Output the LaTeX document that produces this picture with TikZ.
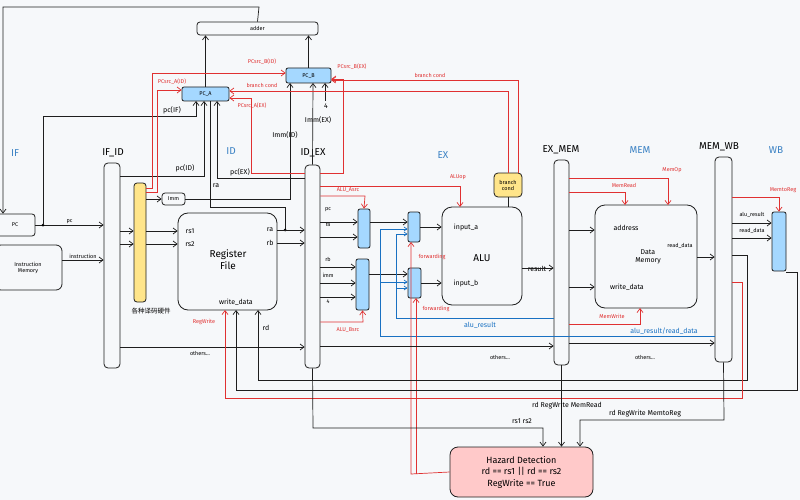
\documentclass[tikz,border=0pt]{standalone}
\usepackage{fontspec}
\setmainfont{Fira Sans}
\newfontfamily\cjk{Noto Sans CJK SC}
\usetikzlibrary{arrows.meta}
\definecolor{bg}{HTML}{F6F8FA}
\definecolor{lb}{HTML}{A5D8FF}
\definecolor{ly}{HTML}{FFE58A}
\definecolor{lr}{HTML}{FFC9C9}
\definecolor{rd}{HTML}{E03131}
\definecolor{bl}{HTML}{1971C2}
\definecolor{st}{HTML}{3B82C4}
\definecolor{ln}{HTML}{1E1E1E}
\begin{document}
\begin{tikzpicture}[x=1pt,y=-1pt,
  box/.style={draw=ln,line width=0.8pt,rounded corners=3pt,fill=bg,inner sep=0pt},
  big/.style={box,rounded corners=10pt},
  reg/.style={box,rounded corners=4pt},
  mux/.style={box,fill=lb,rounded corners=2pt},
  w/.style={draw=ln,line width=0.7pt},
  a/.style={w,-{Straight Barb[length=4pt,width=6pt]}},
  r/.style={draw=rd,line width=0.7pt},
  ra/.style={r,-{Straight Barb[length=4pt,width=6pt]}},
  b/.style={draw=bl,line width=0.7pt},
  ba/.style={b,-{Straight Barb[length=3pt,width=4pt]}},
  t/.style={font=\fontsize{7}{8}\selectfont,inner sep=1pt},
  tt/.style={font=\fontsize{5.5}{6}\selectfont,inner sep=1pt},
  rt/.style={tt,text=rd},
  bt/.style={t,text=bl},
  stage/.style={font=\fontsize{10}{12}\selectfont,text=st},
  regname/.style={font=\fontsize{10}{12}\selectfont}]
\fill[bg] (0,0) rectangle (800,500);
\useasboundingbox (0,0) rectangle (800,500);

% nodes
\node[box,minimum width=121,minimum height=13] (adder) at (257.5,28.5) {};
\node[tt] at (adder) {adder};
\node[mux,minimum width=47,minimum height=14] (pca) at (205.5,94) {};
\node[tt] at (pca) {PC\_A};
\node[mux,minimum width=45,minimum height=15] (pcb) at (308.5,75.5) {};
\node[tt] at (pcb) {PC\_B};
\node[box,minimum width=40,minimum height=22] (pc) at (15,225) {};
\node[tt] at (15,225) {PC};
\node[box,minimum width=67,minimum height=45,rounded corners=6pt] (im) at (28.5,267.5) {};
\node[tt,align=center] at (28,267.5) {Instruction\\Memory};
\node[reg,minimum width=16,minimum height=205] (ifid) at (112,265.5) {};
\node[box,fill=ly,minimum width=12,minimum height=119] (dec) at (140,242.5) {};
\node[box,minimum width=23,minimum height=12] (imm) at (173.5,199) {};
\node[tt] at (imm) {Imm};
\node[big,minimum width=99,minimum height=97] (rf) at (227.5,261.5) {};
\node[reg,minimum width=15,minimum height=203] (idex) at (312.5,266.5) {};
\node[mux,minimum width=12,minimum height=39] (asrc) at (364,228.5) {};
\node[mux,minimum width=13,minimum height=51] (bsrc) at (362.5,284.5) {};
\node[mux,minimum width=12,minimum height=30] (fw1) at (414,227) {};
\node[mux,minimum width=13,minimum height=30] (fw2) at (414.5,283) {};
\node[big,minimum width=80,minimum height=98] (alu) at (482,256) {};
\node[box,fill=ly,minimum width=28,minimum height=24,rounded corners=4pt] (bc) at (508,185) {};
\node[tt,align=center] at (bc) {branch\\cond};
\node[reg,minimum width=15,minimum height=205] (exmem) at (561.5,262.5) {};
\node[big,minimum width=102,minimum height=103] (dm) at (646,256.5) {};
\node[reg,minimum width=17,minimum height=205] (memwb) at (723.5,259.5) {};
\node[mux,minimum width=14,minimum height=59] (wbm) at (779,241.5) {};
\node[box,fill=lr,rounded corners=8pt,minimum width=143,minimum height=50] (hz) at (521.5,472) {};
\node[align=center,font=\fontsize{9}{11.5}\selectfont] at (hz) {Hazard Detection\\rd == rs1 || rd == rs2\\RegWrite == True};

% texts
\node[regname] at (113,153) {IF\_ID};
\node[regname] at (313,153) {ID\_EX};
\node[regname] at (561,150) {EX\_MEM};
\node[regname] at (719,147) {MEM\_WB};
\node[stage] at (15,153) {IF};
\node[stage] at (231,151) {ID};
\node[stage] at (443,155) {EX};
\node[stage] at (640,150) {MEM};
\node[stage] at (776,150) {WB};
\node[font=\fontsize{10}{12}\selectfont,align=center] at (228,260) {Register\\File};
\node[t] at (190,231) {rs1};
\node[t] at (190,244) {rs2};
\node[t] at (270,230) {ra};
\node[t] at (270,243) {rb};
\node[t] at (236,302) {write\_data};
\node[font=\cjk\fontsize{6.5}{8}\selectfont] at (151,311) {各种译码硬件};
\node[font=\fontsize{10}{12}\selectfont] at (482,258) {ALU};
\node[t] at (466,228) {input\_a};
\node[t] at (466,284) {input\_b};
\node[t] at (537,269) {result};
\node[t] at (626,228) {address};
\node[t,align=center] at (648,257) {Data\\Memory};
\node[tt] at (680,246) {read\_data};
\node[t] at (627,287) {write\_data};

% top: adder to PC
\draw[a] (pca.north) -- (adder.south -| pca.north);
\draw[a] (pcb.north) -- (adder.south -| pcb.north);
\draw[a] (adder.north) -- (259,7) -- (3,7) -- (pc.north -| 3,0);
% pc
\draw[a] (pc.east) -- (ifid.west |- pc.east) node[midway,above,tt] {pc};
\fill (43,225) circle (1.5);
\draw[a] (43,225) -- (43,116) -- (196,116) -- (196,101) ;
\node[t] at (172,110) {pc(IF)};
\draw[a] (im.east |- 0,260) -- (ifid.west |- 0,260) node[midway,above,tt] {instruction};
\draw[a] (ifid.east |- 0,176) -- (204,176) -- (204,101);
\node[t] at (185,168) {pc(ID)};
\draw[a] (idex.west |- 0,178) -- (217,178) -- (217,101);
\node[t] at (240,172) {pc(EX)};
\draw[w] (210,101) -- (210,207) -- (285,207) -- (285,230);
\node[t] at (216,186) {ra};
\fill (285,230) circle (1.5);
\draw[a] (imm.east) -- (290,199) -- (290,83);
\node[t] at (285,135) {Imm(ID)};
\draw[a] (idex.north) -- (313,83);
\node[t] at (318,120) {Imm(EX)};
\draw[a] (325,101) -- (325,83);
\node[t] at (326,106) {4};
% red PC src
\draw[ra] (146,188) -- (152,188) -- (152,73) -- (pcb.west |- 0,73);
\node[rt] at (262,62) {PCsrc\_B(ID)};
\draw[ra] (146,192) -- (157,192) -- (157,90) -- (pca.west |- 0,90);
\node[rt] at (172,82) {PCsrc\_A(ID)};
\draw[ra] (idex.east |- 0,173) -- (343,173) -- (343,79) -- (pcb.east |- 0,79);
\node[rt] at (352,67) {PCsrc\_B(EX)};
\draw[ra] (idex.west |- 0,173) -- (251,173) -- (251,98) -- (pca.east |- 0,98);
\node[rt] at (252,106) {PCsrc\_A(EX)};
\draw[ra] (518,173) -- (518,80) -- (331,80);
\node[rt] at (430,75) {branch cond};
\draw[ra] (508,173) -- (508,91) -- (pca.east |- 0,91);
\node[rt] at (262,85) {branch cond};
% decode
\draw[a] (ifid.east |- 0,231) -- (dec.west |- 0,231);
\draw[a] (ifid.east |- 0,244) -- (dec.west |- 0,244);
\draw[a] (dec.east |- imm.west) -- (imm.west);
\draw[a] (dec.east |- 0,231) -- (rf.west |- 0,231);
\draw[a] (dec.east |- 0,244) -- (rf.west |- 0,244);
\draw[a] (rf.east |- 0,230) -- (idex.west |- 0,230);
\draw[a] (rf.east |- 0,243) -- (idex.west |- 0,243);
% EX
\draw[a] (idex.east |- 0,222) -- (asrc.west |- 0,222);
\draw[a] (idex.east |- 0,237) -- (asrc.west |- 0,237);
\node[tt] at (328,210) {pc}; \node[tt] at (328,225) {ra};
\draw[a] (idex.east |- 0,267) -- (bsrc.west |- 0,267);
\draw[a] (idex.east |- 0,283) -- (bsrc.west |- 0,283);
\draw[a] (idex.east |- 0,297) -- (bsrc.west |- 0,297);
\node[tt] at (328,259) {rb}; \node[tt] at (328,275) {imm}; \node[tt] at (328,302) {4};
\draw[ra] (idex.east |- 0,196) -- (365,196) -- (asrc.north);
\node[rt] at (348,190) {ALU\_Asrc};
\draw[ra] (idex.east |- 0,186) -- (460,186) -- (460,207);
\node[rt] at (458,177) {ALUop};
\draw[ra] (idex.east |- 0,322) -- (363,322) -- (bsrc.south);
\node[rt] at (348,330) {ALU\_Bsrc};
\draw[a] (asrc.east |- 0,222) -- (fw1.west |- 0,222);
\draw[a] (bsrc.east |- 0,274) -- (fw2.west |- 0,274);
\draw[a] (fw1.east |- 0,227) -- (alu.west |- 0,227);
\draw[a] (fw2.east |- 0,283) -- (alu.west |- 0,283);
\draw[b] (exmem.west |- 0,318) -- (396,318) -- (396,234);
\draw[ba] (396,234) -- (fw1.west |- 0,234);
\draw[ba] (396,288) -- (fw2.west |- 0,288);
\node[bt] at (480,325) {alu\_result};
\draw[b] (memwb.west |- 0,336) -- (380,336) -- (380,229);
\draw[ba] (380,229) -- (fw1.west |- 0,229);
\draw[ba] (380,282) -- (fw2.west |- 0,282);
\node[bt] at (664,331) {alu\_result/read\_data};
\draw[ra] (hz.west) -- (411,474) -- (411,242);
\draw[ra] (416,474) -- (416,298);
\node[rt] at (432,257) {forwarding};
\node[rt] at (436,309) {forwarding};
\draw[a] (alu.east |- 0,268) -- (exmem.west |- 0,268);
\draw[w] (508,207) -- (bc.south);
% MEM
\draw[a] (exmem.east |- 0,230) -- (dm.west |- 0,230);
\draw[a] (exmem.east |- 0,287) -- (dm.west |- 0,287);
\draw[ra] (exmem.east |- 0,192) -- (625,192) -- (625,205);
\node[rt] at (624,185) {MemRead};
\draw[ra] (exmem.east |- 0,178) -- (668,178) -- (668,205);
\node[rt] at (672,170) {MemOp};
\draw[ra] (exmem.east |- 0,324) -- (640,324) -- (640,308);
\node[rt] at (612,316) {MemWrite};
\draw[a] (dm.east |- 0,257) -- (memwb.west |- 0,257);
% WB
\draw[a] (memwb.east |- 0,223) -- (wbm.west |- 0,223);
\draw[a] (memwb.east |- 0,238) -- (wbm.west |- 0,238);
\node[tt] at (752,215) {alu\_result};
\node[tt] at (752,231) {read\_data};
\draw[ra] (memwb.east |- 0,197) -- (779,197) -- (wbm.north);
\node[rt] at (783,190) {MemtoReg};
% others
\draw[a] (ifid.east |- 0,347) -- (idex.west |- 0,347);
\node[tt] at (200,353) {others...};
\draw[a] (idex.east |- 0,346) -- (exmem.west |- 0,346);
\node[tt] at (500,357) {others...};
\draw[a] (exmem.east |- 0,343) -- (memwb.west |- 0,343);
\node[tt] at (645,357) {others...};
% writeback
\draw[a] (wbm.east |- 0,272) -- (797,272) -- (797,390) -- (236,390) -- (236,310);
\draw[a] (memwb.east |- 0,255) -- (747,255) -- (747,380) -- (258,380) -- (258,310);
\node[t] at (266,328) {rd};
\draw[ra] (memwb.east |- 0,282) -- (742,282) -- (742,398) -- (225,398) -- (225,310);
\node[rt] at (204,322) {RegWrite};
% hazard inputs
\draw[a] (idex.south) -- (313,428) -- (543,428) -- (hz.north -| 543,0);
\node[t] at (522,421) {rs1 rs2};
\draw[a] (exmem.south) -- (hz.north -| exmem.south);
\node[t] at (567,406) {rd RegWrite MemRead};
\draw[a] (memwb.south) -- (724,420) -- (580,420) -- (hz.north -| 580,0);
\node[t] at (645,414) {rd RegWrite MemtoReg};
\end{tikzpicture}
\end{document}
